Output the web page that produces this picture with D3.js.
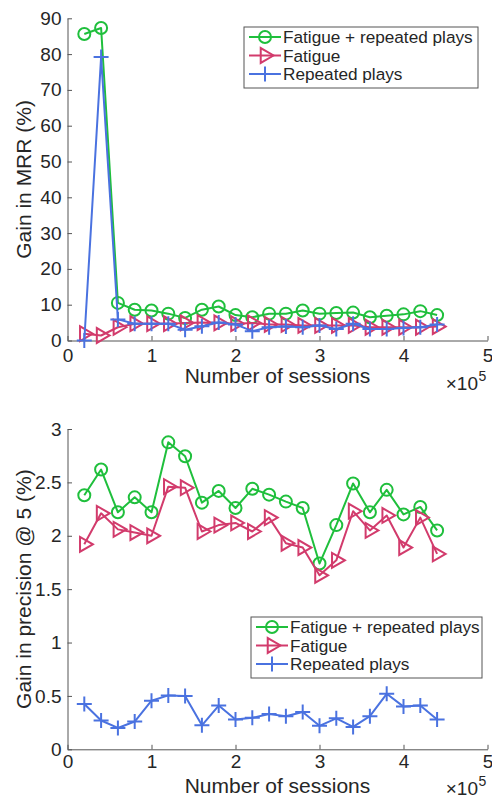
<!DOCTYPE html>
<html>
<head>
<meta charset="utf-8">
<script src="https://cdn.jsdelivr.net/npm/d3@7"></script>
<style>
  body { margin: 0; background: #fff; }
  text { font-family: "Liberation Sans", Arial, Helvetica, sans-serif; fill: #262626; }
</style>
</head>
<body>
<div id="svg-area"></div>
<script>
// number of sessions (x values, shared by both panels)
const sessions = [20000, 40000, 60000, 80000, 100000, 120000, 140000, 160000, 180000, 200000, 220000,
                  240000, 260000, 280000, 300000, 320000, 340000, 360000, 380000, 400000, 420000, 440000]

// top panel: gain in MRR (%)
const mrrBoth = [85.6, 87.3, 10.5, 8.6, 8.4, 7.5, 6.3, 8.6, 9.5, 7.1, 6.5, 7.5, 7.5, 8.4, 7.5, 7.7, 7.8, 6.5, 6.9, 7.3, 8.2, 7.1]
const mrrFatigue = [1.9, 1.4, 3.7, 4.7, 4.7, 4.7, 4.9, 5.0, 4.9, 4.7, 4.9, 4.5, 4.5, 4.2, 4.2, 4.2, 4.2, 3.7, 3.7, 3.7, 3.7, 3.9]
const mrrRepeated = [0, 79.2, 5.9, 4.7, 4.7, 4.7, 3.0, 4.0, 5.0, 4.5, 2.6, 3.7, 3.9, 3.7, 4.2, 3.2, 4.7, 3.2, 3.2, 3.5, 3.7, 4.5]

// bottom panel: gain in precision @ 5 (%)
const precBoth = [2.38, 2.62, 2.22, 2.36, 2.22, 2.875, 2.745, 2.31, 2.42, 2.26, 2.44, 2.385, 2.32, 2.26, 1.74, 2.10, 2.49, 2.22, 2.43, 2.20, 2.27, 2.05]
const precFatigue = [1.92, 2.21, 2.06, 2.03, 2.0, 2.46, 2.45, 2.04, 2.10, 2.12, 2.04, 2.17, 1.93, 1.89, 1.63, 1.77, 2.23, 2.05, 2.19, 1.89, 2.17, 1.83]
const precRepeated = [0.425, 0.27, 0.20, 0.26, 0.455, 0.505, 0.50, 0.225, 0.41, 0.28, 0.295, 0.33, 0.31, 0.35, 0.22, 0.29, 0.21, 0.31, 0.52, 0.40, 0.41, 0.28]

// ticks
const xTicks = [0, 100000, 200000, 300000, 400000, 500000]
const xTickLabels = ["0", "1", "2", "3", "4", "5"]
const mrrTicks = [0, 10, 20, 30, 40, 50, 60, 70, 80, 90]
const precTicks = [0, 0.5, 1, 1.5, 2, 2.5, 3]
const precTickLabels = ["0", "0.5", "1", "1.5", "2", "2.5", "3"]

const seriesNames = ["Fatigue + repeated plays", "Fatigue", "Repeated plays"]
const colors = ["#1fbf3c", "#d23b6c", "#4a72e0"]
const markers = ["circle", "triangle", "plus"]

const svgWidth = 492
const svgHeight = 800
const axisColor = "#555"

let svg = d3.select("#svg-area")
    .append("svg")
    .attr("width", svgWidth)
    .attr("height", svgHeight)

function drawMarker(g, type, color) {
    if (type === "circle") {
        g.append("circle").attr("r", 6).attr("fill", "none").attr("stroke", color).attr("stroke-width", 2)
    } else if (type === "triangle") {
        g.append("path")
            .attr("d", d3.symbol(d3.symbolTriangle, 95)())
            .attr("transform", "rotate(90)")
            .attr("fill", "none").attr("stroke", color).attr("stroke-width", 2)
    } else {
        g.append("path").attr("d", "M-7.5,0H7.5M0,-7.5V7.5")
            .attr("fill", "none").attr("stroke", color).attr("stroke-width", 2)
    }
}

function drawPanel(p) {
    const x = d3.scaleLinear().domain([0, 500000]).range([67.5, 487.5])
    const y = d3.scaleLinear().domain(p.yDomain).range([p.bottom, p.top])
    const g = svg.append("g")

    // x axis
    g.append("g")
        .attr("transform", `translate(0,${p.bottom})`)
        .call(d3.axisBottom(x).tickValues(xTicks).tickFormat((d, i) => xTickLabels[i]).tickSizeInner(-4.5).tickSizeOuter(0).tickPadding(8))
        .call(a => a.select(".domain").attr("stroke", axisColor))
        .call(a => a.selectAll(".tick line").attr("stroke", axisColor))
        .call(a => a.selectAll(".tick text").attr("font-size", 19).attr("fill", "#262626").attr("dy", null).attr("y", p.tickY).attr("font-family", "Liberation Sans, Arial, sans-serif"))

    // y axis
    g.append("g")
        .attr("transform", "translate(67.5,0)")
        .call(d3.axisLeft(y).tickValues(p.yTicks).tickFormat((d, i) => p.yTickLabels[i]).tickSizeInner(-4.5).tickSizeOuter(0).tickPadding(6))
        .call(a => a.select(".domain").attr("stroke", axisColor))
        .call(a => a.selectAll(".tick line").attr("stroke", axisColor))
        .call(a => a.selectAll(".tick text").attr("font-size", 19).attr("fill", "#262626").attr("x", -6).attr("font-family", "Liberation Sans, Arial, sans-serif"))

    // series: green, red, blue (blue on top)
    p.series.forEach((vals, s) => {
        const line = d3.line().x((d, i) => x(sessions[i])).y(d => y(d))
        g.append("path")
            .datum(vals)
            .attr("d", line)
            .attr("fill", "none")
            .attr("stroke", colors[s])
            .attr("stroke-width", 2)
            .attr("stroke-linejoin", "round")
        g.selectAll(".m" + s)
            .data(vals)
            .enter()
            .append("g")
            .attr("transform", (d, i) => `translate(${x(sessions[i])},${y(d)})`)
            .each(function () { drawMarker(d3.select(this), markers[s], colors[s]) })
    })

    // axis labels
    g.append("text")
        .attr("x", 277.5)
        .attr("y", p.labelY)
        .attr("text-anchor", "middle")
        .attr("font-size", 21)
        .text("Number of sessions")
    g.append("text")
        .attr("x", 478)
        .attr("y", p.expY)
        .attr("text-anchor", "end")
        .attr("font-size", 19)
        .text("\u00d710")
    g.append("text")
        .attr("x", 478.5)
        .attr("y", p.expY - 9)
        .attr("font-size", 14)
        .text("5")
    g.append("text")
        .attr("transform", `translate(31,${(p.top + p.bottom) / 2}) rotate(-90)`)
        .attr("text-anchor", "middle")
        .attr("font-size", 21)
        .text(p.yLabel)

    // legend
    const lg = g.append("g").attr("transform", `translate(${p.legX},${p.legY})`)
    lg.append("rect")
        .attr("x", 0).attr("y", 0)
        .attr("width", p.legW).attr("height", 61)
        .attr("fill", "#fff")
        .attr("stroke", "#555")
        .attr("stroke-width", 1)
    seriesNames.forEach((name, s) => {
        const ry = 10 + s * 18.5
        lg.append("line")
            .attr("x1", 5).attr("x2", 37).attr("y1", ry).attr("y2", ry)
            .attr("stroke", colors[s]).attr("stroke-width", 2)
        const mg = lg.append("g").attr("transform", `translate(21,${ry})`)
        drawMarker(mg, markers[s], colors[s])
        lg.append("text")
            .attr("x", 39)
            .attr("y", ry)
            .attr("dy", "0.36em")
            .attr("font-size", 17.2)
            .attr("fill", "#000")
            .text(name)
    })
}

drawPanel({
    top: 18.3, bottom: 340.5,
    yDomain: [0, 90], yTicks: mrrTicks, yTickLabels: mrrTicks.map(String),
    yLabel: "Gain in MRR (%)",
    series: [mrrBoth, mrrFatigue, mrrRepeated],
    legX: 244, legY: 27, legW: 234,
    tickY: 21.5, labelY: 383, expY: 390
})

drawPanel({
    top: 429, bottom: 749.3,
    yDomain: [0, 3], yTicks: precTicks, yTickLabels: precTickLabels,
    yLabel: "Gain in precision @ 5 (%)",
    series: [precBoth, precFatigue, precRepeated],
    legX: 251, legY: 617, legW: 231,
    tickY: 19, labelY: 792.5, expY: 795
})
</script>
</body>
</html>
